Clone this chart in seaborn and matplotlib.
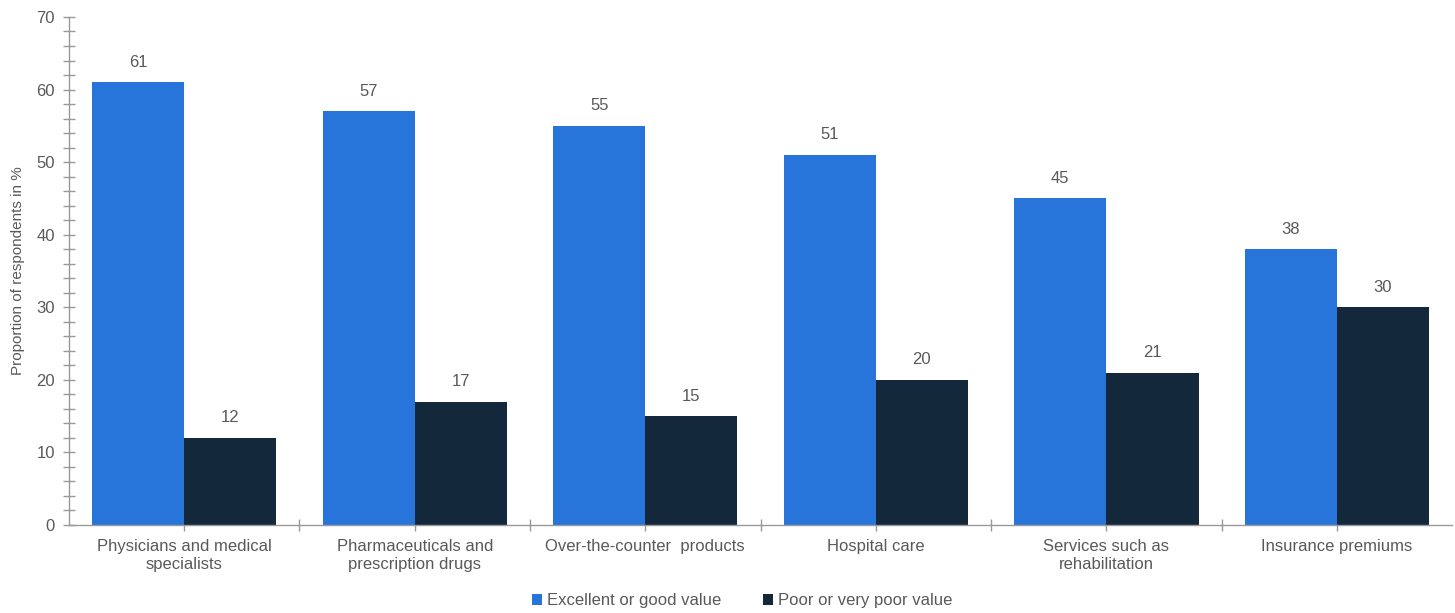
import pandas as pd
import seaborn as sns
import matplotlib.pyplot as plt
from matplotlib.ticker import MultipleLocator, FixedLocator

categories = [
    "Physicians and medical\nspecialists",
    "Pharmaceuticals and\nprescription drugs",
    "Over-the-counter  products",
    "Hospital care",
    "Services such as\nrehabilitation",
    "Insurance premiums",
]
series = ["Excellent or good value", "Poor or very poor value"]
good_values = [61, 57, 55, 51, 45, 38]
poor_values = [12, 17, 15, 20, 21, 30]

df = pd.DataFrame({
    "Category": categories * 2,
    "Rating": [series[0]] * len(categories) + [series[1]] * len(categories),
    "Share": good_values + poor_values,
})

sns.set_style("white")
plt.rcParams["font.family"] = ["Liberation Sans", "DejaVu Sans"]
grey = "#595959"

fig = plt.figure(figsize=(14.55, 6.13), dpi=100)
ax = fig.add_axes([0.0474, 0.1436, 0.9506, 0.8287])

sns.barplot(
    data=df, x="Category", y="Share", hue="Rating",
    order=categories, hue_order=series,
    palette=["#2775DB", "#14283C"], width=0.8,
    saturation=1, edgecolor="none", ax=ax,
)

for c in ax.containers:
    ax.bar_label(c, fmt="%d", padding=9, fontsize=12, color=grey)

ax.set_ylim(0, 70)
ax.set_xlim(-0.5, len(categories) - 0.5)
ax.yaxis.set_major_locator(MultipleLocator(10))
ax.yaxis.set_minor_locator(MultipleLocator(2))
ax.xaxis.set_minor_locator(FixedLocator([i + 0.5 for i in range(len(categories) - 1)]))

ax.tick_params(axis="y", which="major", left=True, length=8, width=1, color="#999999",
               labelsize=12, labelcolor=grey, pad=6, direction="inout")
ax.tick_params(axis="y", which="minor", left=True, length=8, width=1, color="#999999",
               direction="inout")
ax.tick_params(axis="x", which="major", bottom=True, length=4, width=1, color="#999999",
               labelsize=12, labelcolor=grey, pad=6)
ax.tick_params(axis="x", which="minor", bottom=True, length=8, width=1, color="#999999",
               direction="inout")
for lbl in ax.get_xticklabels():
    lbl.set_linespacing(1.3)

sns.despine(ax=ax)
for s in ["left", "bottom"]:
    ax.spines[s].set_color("#999999")
    ax.spines[s].set_linewidth(1)

ax.set_xlabel("")
ax.set_ylabel("Proportion of respondents in %", fontsize=11, color=grey, labelpad=8)

ax.legend(loc="upper center", bbox_to_anchor=(0.487, -0.105), ncol=2, frameon=False,
          fontsize=12, labelcolor=grey, handlelength=0.6, handleheight=0.6,
          handletextpad=0.3, columnspacing=2.5)

fig.savefig("out.png", dpi=100)
